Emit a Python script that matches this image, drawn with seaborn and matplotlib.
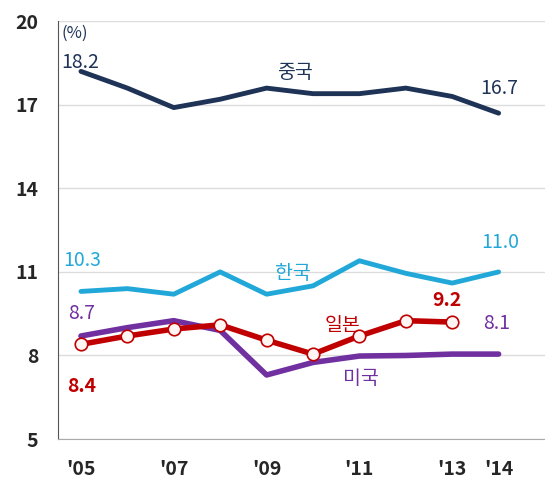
import pandas as pd
import matplotlib.pyplot as plt
import seaborn as sns

# data
years = [2005, 2006, 2007, 2008, 2009, 2010, 2011, 2012, 2013, 2014]
china = [18.2, 17.6, 16.9, 17.2, 17.6, 17.4, 17.4, 17.6, 17.3, 16.7]
korea = [10.3, 10.4, 10.2, 11.0, 10.2, 10.5, 11.4, 10.95, 10.6, 11.0]
japan = [8.4, 8.7, 8.95, 9.1, 8.55, 8.05, 8.7, 9.25, 9.2, None]
usa = [8.7, 9.0, 9.25, 8.9, 7.3, 7.75, 7.98, 8.0, 8.05, 8.05]
xtick_years = [2005, 2007, 2009, 2011, 2013, 2014]
xtick_labels = ["'05", "'07", "'09", "'11", "'13", "'14"]
yticks = [5, 8, 11, 14, 17, 20]

df = pd.DataFrame({'year': years, 'china': china, 'korea': korea,
                   'japan': japan, 'usa': usa})

sns.set_style("white")
plt.rcParams['font.family'] = ['Noto Sans CJK KR', 'DejaVu Sans']

c_china = "#1f3357"
c_korea = "#22a8d8"
c_japan = "#c00000"
c_usa = "#7030a0"

fig = plt.figure(figsize=(5.45, 4.83), dpi=100)
ax = fig.add_axes([0.106, 0.091, 0.894, 0.865])

sns.lineplot(data=df, x='year', y='china', color=c_china, lw=3.5, ax=ax)
sns.lineplot(data=df, x='year', y='korea', color=c_korea, lw=3.5, ax=ax)
sns.lineplot(data=df, x='year', y='usa', color=c_usa, lw=4, ax=ax)
sns.lineplot(data=df.dropna(), x='year', y='japan', color=c_japan, lw=4,
             marker='o', markersize=9, markerfacecolor='#fff5f2',
             markeredgecolor=c_japan, markeredgewidth=1.2, ax=ax)

ax.set_xlim(2004.5, 2015)
ax.set_ylim(5, 20)
ax.set_yticks(yticks)
ax.set_yticklabels([str(v) for v in yticks], fontsize=14, fontweight='bold')
ax.set_xticks(xtick_years)
ax.set_xticklabels(xtick_labels, fontsize=14, fontweight='bold')
ax.tick_params(axis='x', length=0, pad=15)
ax.tick_params(axis='y', length=5, color='#888888', pad=9, direction='out')
ax.yaxis.grid(True, color='#dcdcdc', lw=1)
ax.set_xlabel('')
ax.set_ylabel('')
for s in ['top', 'right']:
    ax.spines[s].set_visible(False)
ax.spines['left'].set_color('#555555')
ax.spines['bottom'].set_color('#aaaaaa')

# annotations
fs = 14
def label(x, y, s, color, **kw):
    ax.text(x, y, s, fontsize=fs, color=color, ha='left', va='center', **kw)

ax.text(2004.57, 19.57, '(%)', fontsize=12, color=c_china, ha='left', va='center')
label(2004.57, 18.53, '18.2', c_china)
label(2009.22, 18.17, '중국', c_china)
label(2013.6, 17.6, '16.7', c_china)
label(2004.61, 11.42, '10.3', c_korea)
label(2009.18, 10.96, '한국', c_korea)
label(2013.62, 12.07, '11.0', c_korea)
label(2004.72, 9.52, '8.7', c_usa)
label(2012.56, 9.99, '9.2', c_japan, fontweight='bold')
label(2010.26, 9.09, '일본', c_japan)
label(2013.66, 9.16, '8.1', c_usa)
label(2004.7, 6.87, '8.4', c_japan, fontweight='bold')
label(2010.65, 7.19, '미국', c_usa)

plt.savefig("out.png", dpi=100)
